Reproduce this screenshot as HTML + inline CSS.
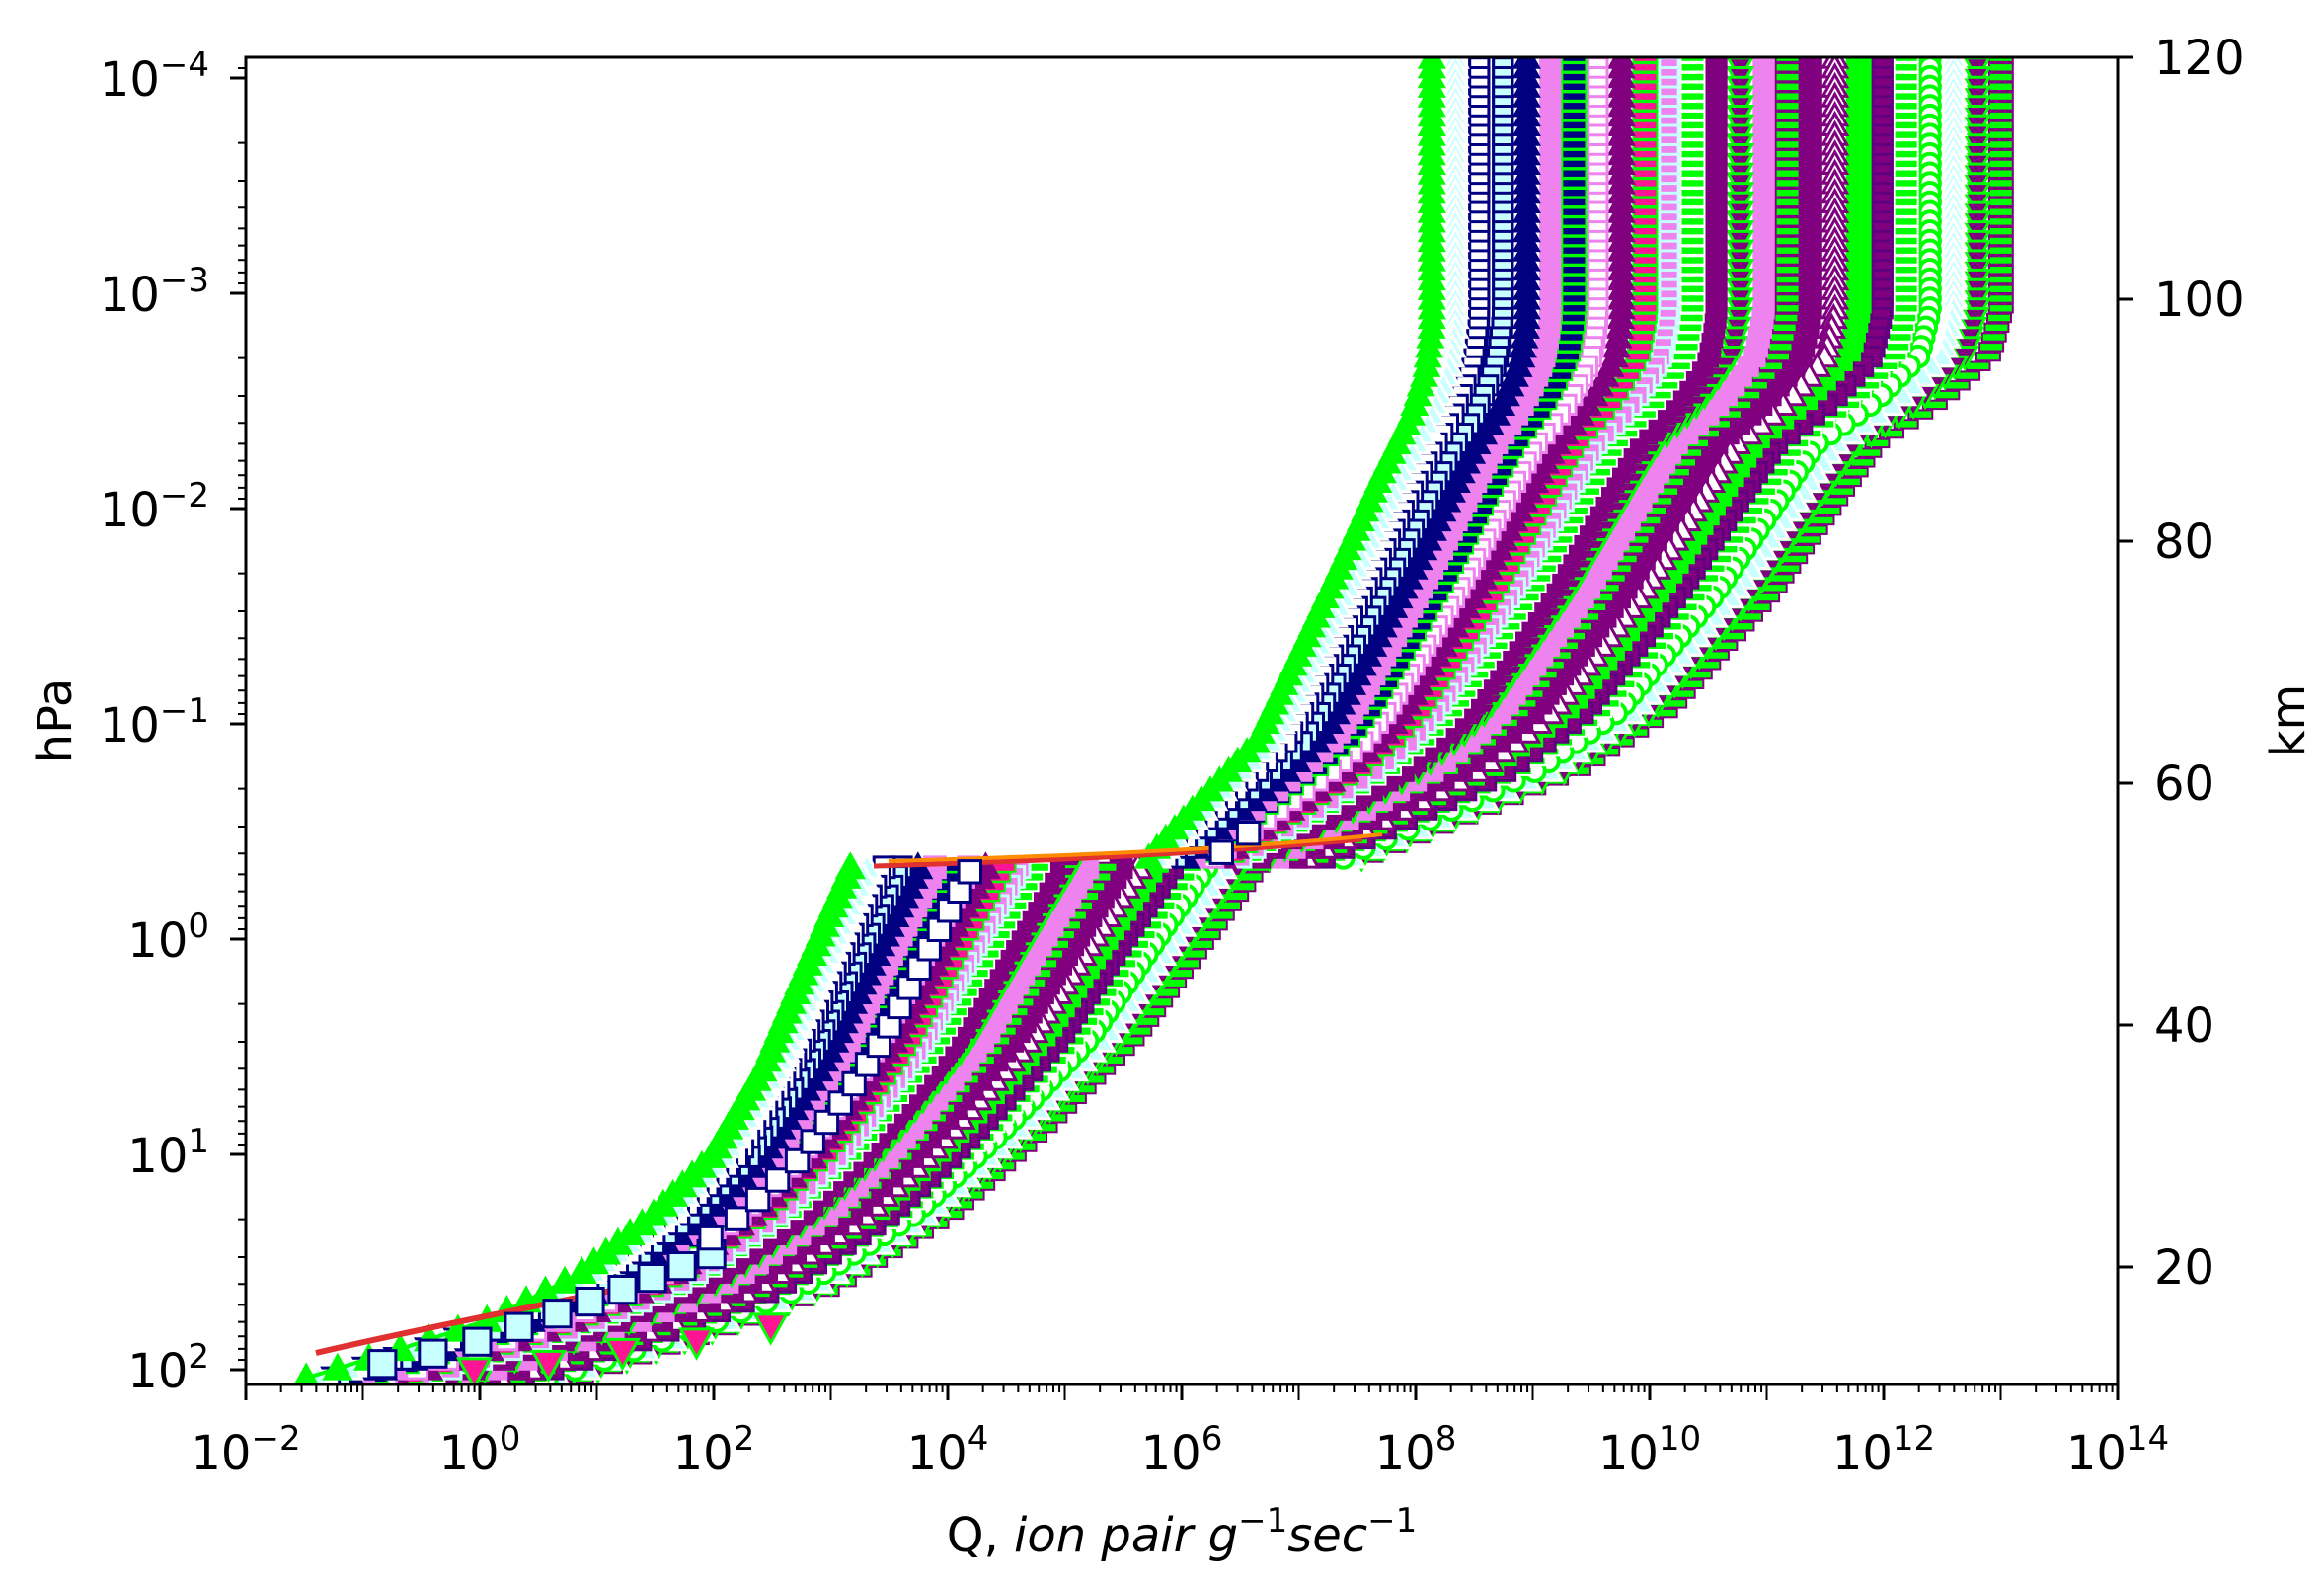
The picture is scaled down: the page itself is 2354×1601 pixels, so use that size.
<!DOCTYPE html>
<html><head><meta charset="utf-8">
<style>
html,body{margin:0;padding:0;background:#fff;overflow:hidden;width:2354px;height:1601px;}
svg{display:block;}
text{font-family:"DejaVu Sans","Liberation Sans",sans-serif;fill:#000;}
</style></head>
<body>
<svg id="s" width="2354" height="1601" viewBox="0 0 2354 1601" xmlns="http://www.w3.org/2000/svg">
<rect width="2354" height="1601" fill="#fff"/>
<defs><clipPath id="c"><rect x="249" y="58" width="1896" height="1344"/></clipPath></defs>
<g id="data" clip-path="url(#c)"></g>
<g id="axes" stroke="#000" stroke-width="3" fill="none">
<rect x="249" y="58" width="1896" height="1344"/>
</g>
<g id="ticks" stroke="#000" fill="none"></g>
<g font-size="48">
<text x="212" y="97" text-anchor="end">10<tspan font-size="34" dy="-20">−4</tspan></text>
<text x="212" y="315" text-anchor="end">10<tspan font-size="34" dy="-20">−3</tspan></text>
<text x="212" y="533" text-anchor="end">10<tspan font-size="34" dy="-20">−2</tspan></text>
<text x="212" y="751" text-anchor="end">10<tspan font-size="34" dy="-20">−1</tspan></text>
<text x="212" y="969" text-anchor="end">10<tspan font-size="34" dy="-20">0</tspan></text>
<text x="212" y="1187" text-anchor="end">10<tspan font-size="34" dy="-20">1</tspan></text>
<text x="212" y="1405" text-anchor="end">10<tspan font-size="34" dy="-20">2</tspan></text>

<text x="249" y="1488" text-anchor="middle">10<tspan font-size="34" dy="-20">−2</tspan></text>
<text x="486" y="1488" text-anchor="middle">10<tspan font-size="34" dy="-20">0</tspan></text>
<text x="723" y="1488" text-anchor="middle">10<tspan font-size="34" dy="-20">2</tspan></text>
<text x="960" y="1488" text-anchor="middle">10<tspan font-size="34" dy="-20">4</tspan></text>
<text x="1197" y="1488" text-anchor="middle">10<tspan font-size="34" dy="-20">6</tspan></text>
<text x="1434" y="1488" text-anchor="middle">10<tspan font-size="34" dy="-20">8</tspan></text>
<text x="1671" y="1488" text-anchor="middle">10<tspan font-size="34" dy="-20">10</tspan></text>
<text x="1908" y="1488" text-anchor="middle">10<tspan font-size="34" dy="-20">12</tspan></text>
<text x="2145" y="1488" text-anchor="middle">10<tspan font-size="34" dy="-20">14</tspan></text>

<text x="2182" y="75">120</text>
<text x="2182" y="320">100</text>
<text x="2182" y="565">80</text>
<text x="2182" y="810">60</text>
<text x="2182" y="1055">40</text>
<text x="2182" y="1300">20</text>

<text x="1197" y="1571" text-anchor="middle">Q, <tspan font-style="italic">ion pair g</tspan><tspan font-size="34" dy="-20">−1</tspan><tspan font-style="italic" dy="20">sec</tspan><tspan font-size="34" dy="-20">−1</tspan></text>
<text transform="translate(72,730) rotate(-90)" text-anchor="middle">hPa</text>
<text transform="translate(2334,730) rotate(-90)" text-anchor="middle">km</text>
</g>
</svg>
<script>
(function(){
var tk=document.getElementById('ticks'), h='';
function ln(x1,y1,x2,y2,w){h+='<line x1="'+x1+'" y1="'+y1+'" x2="'+x2+'" y2="'+y2+'" stroke-width="'+w+'"/>';}
var X0=249,DX=118.5,Y0=79,DY=218;
for(var d=-2;d<14;d++){for(var k=1;k<10;k++){var x=X0+(d+2+Math.log10(k))*DX;if(k==1){ln(x,1402,x,1418,(d%2==0)?3:2);}else ln(x,1402,x,1410,2);}}
ln(2145,1402,2145,1418,3);
for(var d=-5;d<3;d++){for(var k=1;k<10;k++){var y=Y0+(d+4+Math.log10(k))*DY;if(y<58||y>1402)continue;if(k==1)ln(249,y,233,y,3);else ln(249,y,241,y,2);}}
[58,303,548,793,1038,1283].forEach(function(y){ln(2145,y,2161,y,3);});
tk.innerHTML=h;

var S=1.5013;
var LU=[[39,966],[220,966],[250,962],[280,952],[320,932],[380,905],[450,872],[500,848],[540,810],[578,775]];
var LB=[[582,575],[650,545],[720,515],[780,480],[820,440],[860,390],[890,330],[910,270],[930,205]];
var RU=[[39,1350],[210,1350],[240,1342],[270,1310],[300,1265],[400,1195],[480,1125],[520,1065],[550,995],[578,925]];
var RB=[[582,850],[620,822],[700,765],[760,705],[820,640],[870,560],[900,480],[930,390]];
function it(a,y){if(y<=a[0][0])return a[0][1];for(var i=1;i<a.length;i++){if(y<=a[i][0]){var f=(y-a[i-1][0])/(a[i][0]-a[i-1][0]);return a[i-1][1]+f*(a[i][1]-a[i-1][1]);}}return a[a.length-1][1];}
function xs(t,yd){var up=yd<=580;var l=it(up?LU:LB,yd),r=it(up?RU:RB,yd);return (l+t*(r-l))*S;}
var pal=[
['tu','#00ff00','#00ff00'],['tu','#c8ffff','#ffffff'],['s','#ffffff','#000080'],['s','#c8ffff','#000080'],['tu','#000080','#000080'],
['s','#ee82ee','#ee82ee'],['d','#000080','#00ff00'],['s','#ffffff','#ee82ee'],['tu','#800080','#800080'],['d','#ff1493','#00ff00'],
['s','#ee82ee','#c8ffff'],['d','#00ff00','#ffffff'],['s','#800080','#800080'],['td','#800080','#00ff00'],['s','#ee82ee','#ee82ee'],
['d','#00ff00','#800080'],['s','#800080','#800080'],['tu','#ffffff','#800080'],['d','#00ff00','#00ff00'],['s','#800080','#600080'],
['d','#00ff00','#ffffff'],['o','#ffffff','#00ff00'],['tu','#c8ffff','#ffffff'],['td','#800080','#00ff00'],['d','#00ff00','#800080']];
var g='';
function f1(v){return v.toFixed(1);}
function mk(sh,x,y,r,f,e){
 if(sh=='tu')return '<polygon points="'+f1(x)+','+f1(y-r)+' '+f1(x-r)+','+f1(y+r*0.8)+' '+f1(x+r)+','+f1(y+r*0.8)+'" fill="'+f+'" stroke="'+e+'" stroke-width="3"/>';
 if(sh=='td')return '<polygon points="'+f1(x)+','+f1(y+r)+' '+f1(x-r)+','+f1(y-r*0.8)+' '+f1(x+r)+','+f1(y-r*0.8)+'" fill="'+f+'" stroke="'+e+'" stroke-width="3"/>';
 if(sh=='s')return '<rect x="'+f1(x-r*0.8)+'" y="'+f1(y-r*0.8)+'" width="'+f1(1.6*r)+'" height="'+f1(1.6*r)+'" fill="'+f+'" stroke="'+e+'" stroke-width="3"/>';
 if(sh=='o')return '<circle cx="'+f1(x)+'" cy="'+f1(y)+'" r="'+f1(r*0.85)+'" fill="'+f+'" stroke="'+e+'" stroke-width="4"/>';
 return '<rect x="'+f1(x-r)+'" y="'+f1(y-r*0.35)+'" width="'+f1(2*r)+'" height="'+f1(0.7*r)+'" fill="'+f+'" stroke="'+e+'" stroke-width="2"/>';
}
var N=pal.length;
for(var i=N-1;i>=0;i--){
 var t=i/(N-1),p=pal[i];
 var pts=[];
 for(var yd=39;yd<=580;yd+=4)pts.push(f1(xs(t,yd))+','+f1(yd*S));
 g+='<polyline points="'+pts.join(' ')+'" fill="none" stroke="'+p[2]+'" stroke-width="4"/>';
 pts=[];
 for(var yd=582;yd<=935;yd+=4)pts.push(f1(xs(t,yd))+','+f1(yd*S));
 g+='<polyline points="'+pts.join(' ')+'" fill="none" stroke="'+p[2]+'" stroke-width="4"/>';
 for(var yd=39;yd<=935;yd+=6.5){
   var r=yd>580?13:12;
   g+=mk(p[0],xs(t,yd),yd*S,r,p[1],p[2]);
 }
}
g+='<path d="M885,877 C1050,872 1200,866 1380,850" stroke="#e03030" stroke-width="5" fill="none"/>';
g+='<path d="M900,872 C1100,866 1250,860 1400,845" stroke="#ff8c00" stroke-width="4" fill="none"/>';
g+='<path d="M320,1370 C450,1340 560,1320 700,1290" stroke="#e03030" stroke-width="6" fill="none"/>';
var sq=[[258,920],[292,913],[322,905],[350,895],[376,886],[398,878],[420,870],[440,862],[460,854],[480,846]];
sq.forEach(function(q){g+=mk('s',q[0]*S,q[1]*S,17,'#c8ffff','#000080');});
for(var yd=835;yd>=560;yd-=13){g+=mk('s',xs(0.3,yd),yd*S,14,'#ffffff','#000080');}
var tri=[[320,925],[370,920],[420,912],[470,905],[520,895]];
tri.forEach(function(q){g+=mk('td',q[0]*S,q[1]*S,16,'#ff1493','#00ff00');});
document.getElementById('data').innerHTML=g;
})();
</script>
</body></html>
